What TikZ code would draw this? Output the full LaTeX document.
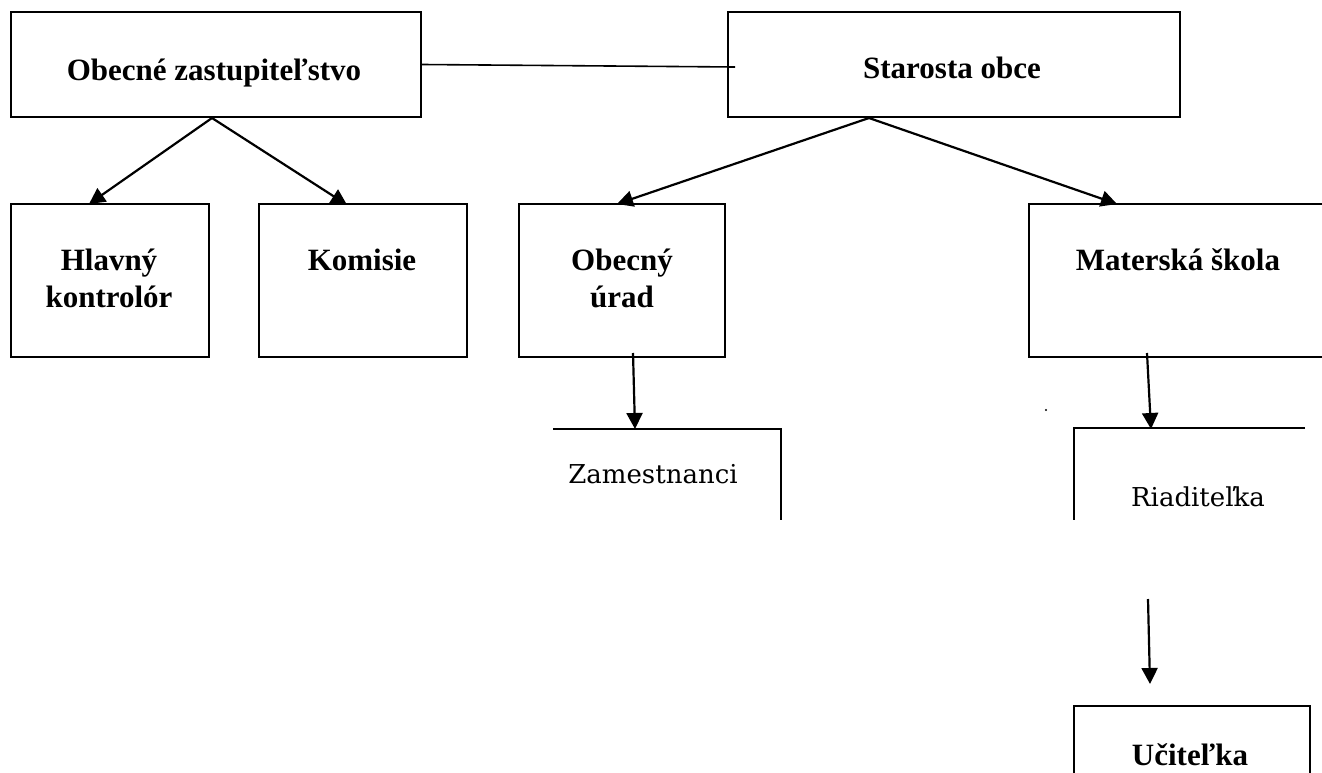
\documentclass[tikz,border=0pt]{standalone}
\usepackage{fontspec}
\setmainfont{Liberation Serif}
\newfontfamily\camb{DejaVu Serif}
\usetikzlibrary{arrows.meta,calc}
\begin{document}
\begin{tikzpicture}[x=1pt,y=-1pt,
  box/.style={draw, line width=2pt, inner sep=0pt, rectangle},
  thinbox/.style={box, line width=1.3pt},
  lbl/.style={font=\bfseries\fontsize{31}{37}\selectfont, inner sep=0pt, anchor=base},
  rlbl/.style={font=\camb\fontsize{26}{31}\selectfont, inner sep=0pt, anchor=base},
  arr/.style={-{Triangle[length=16pt,width=16pt]}, line width=2.2pt},
  link/.style={line width=1.6pt}]
\useasboundingbox (0,0) rectangle (1322,773);
\fill[white] (0,0) rectangle (1322,773);

% closed boxes
\node[box, minimum width=410pt, minimum height=105pt] (oz) at (216,64.5) {};
\node[box, minimum width=452pt, minimum height=105pt] (st) at (954,64.5) {};
\node[box, minimum width=198pt, minimum height=153pt] (hk) at (110,280.5) {};
\node[thinbox, minimum width=208pt, minimum height=153pt] (ko) at (363,280.5) {};
\node[box, minimum width=206pt, minimum height=153pt] (ou) at (622,280.5) {};
\node[box, minimum width=300pt, minimum height=153pt] (ms) at (1179,280.5) {};

% labels
\node[lbl] (tOz) at (214,81) {Obecné zastupiteľstvo};
\node[lbl] (tSt) at (952,79) {Starosta obce};
\node[lbl] (tHk1) at (109,270) {Hlavný};
\node[lbl] (tHk2) at (109,307) {kontrolór};
\node[lbl] (tKo) at (362,270) {Komisie};
\node[lbl] (tOu1) at (622,270) {Obecný};
\node[lbl] (tOu2) at (622,307) {úrad};
\node[lbl] (tMs) at (1178,270) {Materská škola};

% open boxes
\coordinate (zaTL) at (553,429);
\coordinate (zaTR) at (781,429);
\coordinate (zaBR) at (781,520);
\draw[line width=1.7pt] (zaTL) -- (zaTR) -- (zaBR);
\node[rlbl] (tZa) at (653,483) {Zamestnanci};

\coordinate (riTR) at (1305,428);
\coordinate (riTL) at (1074,428);
\coordinate (riBL) at (1074,520);
\draw[line width=1.2pt] (riTR) -- (riTL) -- (riBL);
\node[rlbl] (tRi) at (1198,506) {Riaditeľka};

\coordinate (ucBL) at (1074,775);
\coordinate (ucTL) at (1074,706);
\coordinate (ucTR) at (1310,706);
\coordinate (ucBR) at (1310,775);
\draw[line width=1.3pt] (ucBL) -- (ucTL) -- (ucTR) -- (ucBR);
\node[lbl] (tUc) at (1190,765) {Učiteľka};

% stray dot
\fill (1046,410) circle (1.2pt);

% connectors
\draw[link] (oz.east) -- ($(st.west)+(8,2.5)$);

\coordinate (ozA) at ($(oz.south)+(-4,0)$);
\draw[arr] (ozA) -- ($(hk.north)+(-21,1)$);
\draw[arr] (ozA) -- ($(ko.north)+(-16,1.5)$);

\coordinate (stA) at ($(st.south west)+(142,0)$);
\draw[arr] (stA) -- ($(ou.north)+(-5,1)$);
\draw[arr] (stA) -- ($(ms.north west)+(89,1)$);

\draw[arr] ($(ou.south)+(11,-5)$) -- ($(zaTL)+(82,0)$);
\draw[arr] ($(ms.south west)+(119,-5)$) -- ($(riTL)+(77,1)$);
\draw[arr] (1148,599) -- ($(ucTL)+(76,-22)$);
\end{tikzpicture}
\end{document}
